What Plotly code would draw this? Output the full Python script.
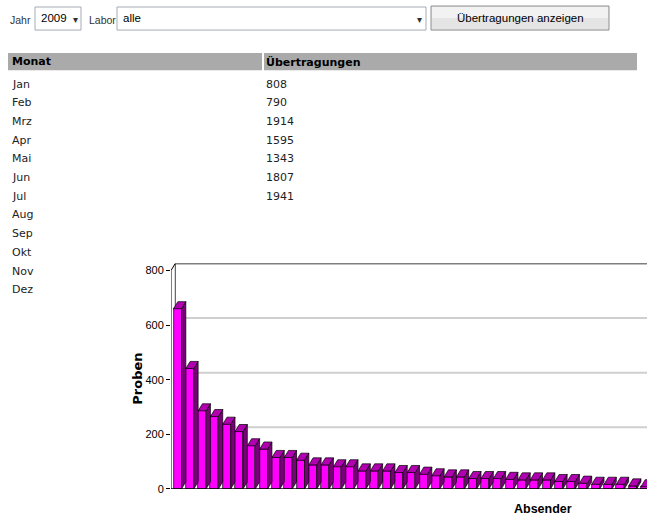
import plotly.graph_objects as go

# ---------------- data ----------------
months = ["Jan", "Feb", "Mrz", "Apr", "Mai", "Jun", "Jul", "Aug", "Sep", "Okt", "Nov", "Dez"]
transfers = [808, 790, 1914, 1595, 1343, 1807, 1941, None, None, None, None, None]
proben = [660, 441, 286, 265, 237, 210, 158, 146, 115, 115, 105, 88, 88, 81, 81, 66, 66, 66,
          60, 60, 54, 48, 44, 44, 38, 38, 38, 35, 33, 33, 33, 27, 27, 21, 17, 17, 17, 11, 8]
y_ticks = [0, 200, 400, 600, 800]
year_label = "2009"
labor_label = "alle"
button_label = "Übertragungen anzeigen"
col_headers = ["Monat", "Übertragungen"]
y_title = "Proben"
x_title = "Absender"

# ---------------- geometry helpers ----------------
W, H = 647, 515          # target picture size
FIG_H = 522              # figure height (the capture is rescaled to 515 tall)
def px(x):
    return x / W
def py(y):
    return 1 - y / H

NARROW = "Liberation Sans, Arial, sans-serif"
TAHOMA = "DejaVu Sans, Verdana, sans-serif"

bw = 0.65      # front face width (x units)
dx = 0.35      # 3D depth in x units
dy = 26        # 3D depth in y units
unit_px = 12.3
x_left = -0.53
x_right = x_left + (W - 171) / unit_px
y_top = 800 + dy

fig = go.Figure()

# ---------------- 3D bars ----------------
xs = list(range(len(proben)))
fig.add_trace(go.Bar(
    x=xs, y=proben, width=bw,
    marker=dict(color="#ff00ff", line=dict(color="black", width=0.7)),
    hoverinfo="skip", showlegend=False,
))

side_x, side_y, top_x, top_y = [], [], [], []
for i, v in zip(xs, proben):
    l, r = i - bw / 2, i + bw / 2
    side_x += [r, r, r + dx, r + dx, r, None]
    side_y += [0, v, v + dy, dy, 0, None]
    top_x += [l, r, r + dx, l + dx, l, None]
    top_y += [v, v, v + dy, v + dy, v, None]

fig.add_trace(go.Scatter(x=side_x, y=side_y, mode="lines", fill="toself",
                         fillcolor="#7a007a", line=dict(color="black", width=0.7),
                         hoverinfo="skip", showlegend=False))
fig.add_trace(go.Scatter(x=top_x, y=top_y, mode="lines", fill="toself",
                         fillcolor="#b000b0", line=dict(color="black", width=0.7),
                         hoverinfo="skip", showlegend=False))

# ---------------- chart frame shapes ----------------
shapes = []
for t in y_ticks[1:-1]:
    shapes.append(dict(type="line", xref="x", yref="y", x0=x_left + dx, x1=x_right,
                       y0=t + dy, y1=t + dy, line=dict(color="#cfcfcf", width=2), layer="below"))
shapes.append(dict(type="line", xref="x", yref="y", x0=x_left + dx, x1=x_left + dx,
                   y0=dy, y1=y_top, line=dict(color="#444444", width=1), layer="below"))
shapes.append(dict(type="line", xref="x", yref="y", x0=x_left + dx, x1=x_right,
                   y0=y_top, y1=y_top, line=dict(color="black", width=1.5), layer="below"))
shapes.append(dict(type="path", xref="x", yref="y",
                   path="M %f,0 L %f,800 L %f,%f" % (x_left, x_left, x_left + dx, y_top),
                   line=dict(color="black", width=1)))
shapes.append(dict(type="line", xref="x", yref="y", x0=x_left, x1=x_right, y0=0, y1=0,
                   line=dict(color="black", width=1.5)))

# ---------------- table (header bar + cells) ----------------
col_x = [10, 264]
shapes.append(dict(type="rect", xref="paper", yref="paper", x0=px(8), x1=px(262), y0=py(70), y1=py(53),
                   line=dict(width=0), fillcolor="#aaaaaa", layer="below"))
shapes.append(dict(type="rect", xref="paper", yref="paper", x0=px(264), x1=px(637), y0=py(70), y1=py(53),
                   line=dict(width=0), fillcolor="#aaaaaa", layer="below"))

annotations = []
for cx, h in zip(col_x, col_headers):
    annotations.append(dict(text="<b>%s</b>" % h, x=px(cx), y=py(61.5), xref="paper", yref="paper",
                            xanchor="left", yanchor="middle", showarrow=False,
                            font=dict(family=TAHOMA, size=11, color="black")))
row0, row_step = 84, 18.65
for i, (m, v) in enumerate(zip(months, transfers)):
    yy = py(row0 + i * row_step)
    annotations.append(dict(text=m, x=px(col_x[0]), y=yy, xref="paper", yref="paper",
                            xanchor="left", yanchor="middle", showarrow=False,
                            font=dict(family=TAHOMA, size=11, color="#222222")))
    if v is not None:
        annotations.append(dict(text=str(v), x=px(col_x[1]), y=yy, xref="paper", yref="paper",
                                xanchor="left", yanchor="middle", showarrow=False,
                                font=dict(family=TAHOMA, size=11, color="#222222")))

# ---------------- form controls ----------------
shapes.append(dict(type="rect", xref="paper", yref="paper", x0=px(35), x1=px(81), y0=py(30), y1=py(7),
                   line=dict(color="#a5acb5", width=1), fillcolor="white"))
shapes.append(dict(type="rect", xref="paper", yref="paper", x0=px(117), x1=px(426), y0=py(30), y1=py(7),
                   line=dict(color="#a5acb5", width=1), fillcolor="white"))
shapes.append(dict(type="rect", xref="paper", yref="paper", x0=px(431), x1=px(609), y0=py(30), y1=py(6),
                   line=dict(color="#8e8f8f", width=1), fillcolor="#e4e4e4"))
shapes.append(dict(type="rect", xref="paper", yref="paper", x0=px(432), x1=px(608), y0=py(18), y1=py(7),
                   line=dict(width=0), fillcolor="#f2f2f2"))

annotations += [
    dict(text="Jahr", x=px(8), y=py(20), xref="paper", yref="paper", xanchor="left", yanchor="middle",
         showarrow=False, font=dict(family=NARROW, size=10.5, color="#333333")),
    dict(text=year_label, x=px(39), y=py(18), xref="paper", yref="paper", xanchor="left", yanchor="middle",
         showarrow=False, font=dict(family=NARROW, size=11.5, color="black")),
    dict(text="▾", x=px(75), y=py(19), xref="paper", yref="paper", xanchor="center", yanchor="middle",
         showarrow=False, font=dict(family="DejaVu Sans", size=10, color="#333333")),
    dict(text="Labor", x=px(87), y=py(20), xref="paper", yref="paper", xanchor="left", yanchor="middle",
         showarrow=False, font=dict(family=NARROW, size=10.5, color="#333333")),
    dict(text=labor_label, x=px(121), y=py(18), xref="paper", yref="paper", xanchor="left", yanchor="middle",
         showarrow=False, font=dict(family=NARROW, size=11.5, color="black")),
    dict(text="▾", x=px(419), y=py(19), xref="paper", yref="paper", xanchor="center", yanchor="middle",
         showarrow=False, font=dict(family="DejaVu Sans", size=10, color="#333333")),
    dict(text=button_label, x=px(520), y=py(18), xref="paper", yref="paper", xanchor="center", yanchor="middle",
         showarrow=False, font=dict(family=NARROW, size=11.5, color="black")),
    dict(text="<b>%s</b>" % x_title, x=px(543), y=py(508), xref="paper", yref="paper", xanchor="center",
         yanchor="middle", showarrow=False, font=dict(family=NARROW, size=12.5, color="black")),
    dict(text="<b>%s</b>" % y_title, x=px(138), y=py(378), xref="paper", yref="paper", xanchor="center",
         yanchor="middle", textangle=-90, showarrow=False,
         font=dict(family=TAHOMA, size=13, color="black")),
]

fig.update_layout(
    width=W, height=FIG_H, autosize=False,
    margin=dict(l=0, r=0, t=0, b=0),
    paper_bgcolor="white", plot_bgcolor="white",
    showlegend=False, bargap=0,
    shapes=shapes, annotations=annotations,
    xaxis=dict(domain=[px(171), 1.0], range=[x_left, x_right], visible=False, fixedrange=True),
    yaxis=dict(domain=[py(488), py(488 - y_top * 0.2725)], range=[0, y_top],
               tickvals=y_ticks, ticks="outside", ticklen=4, tickcolor="black",
               showline=False, showgrid=False, zeroline=False, fixedrange=True,
               tickfont=dict(family=NARROW, size=11, color="black")),
)

page_css = (
    "var h=document.documentElement,b=document.body;"
    "h.style.margin='0';h.style.padding='0';h.style.overflow='hidden';"
    "b.style.margin='0';b.style.padding='0';b.style.overflow='hidden';"
)
fig.write_html("out.html", config={"displayModeBar": False, "responsive": False},
               post_script=page_css)
